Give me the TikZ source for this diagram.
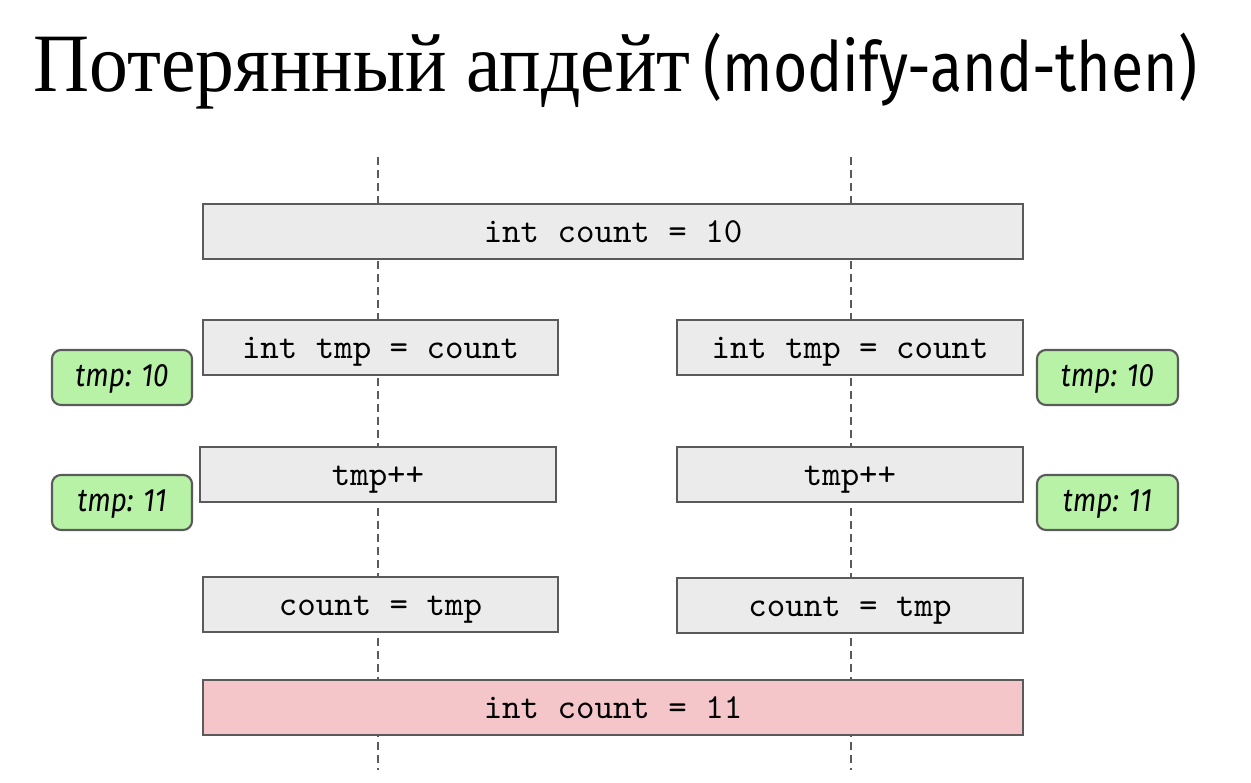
\documentclass[tikz,border=0pt]{standalone}
\usepackage{fontspec}
\setmainfont{Liberation Serif}
\newfontfamily\tagfont{Fira Sans}
\definecolor{opfill}{HTML}{EBEBEB}
\definecolor{opdraw}{HTML}{5A5A5A}
\definecolor{lostfill}{HTML}{F4C6C9}
\definecolor{tmpfill}{HTML}{B8F2A6}

\begin{document}
\begin{tikzpicture}[x=0.01cm,y=-0.01cm,
    op/.style={draw=opdraw,fill=opfill,line width=0.6pt,minimum height=0.55cm,
        inner sep=0pt,text height=6.6pt,text depth=0.4pt,
        font=\ttfamily\fontsize{10}{12}\selectfont},
    tmp/.style={draw=opdraw,fill=tmpfill,line width=0.6pt,rounded corners=0.09cm,
        minimum width=1.4cm,minimum height=0.55cm,inner sep=0pt,
        text height=6.2pt,text depth=0.8pt,
        font=\tagfont\itshape\fontsize{9.2}{10}\selectfont},
    thread/.style={draw=opdraw,line width=0.45pt,dash pattern=on 0.08cm off 0.05cm}]
\useasboundingbox (0,0) rectangle (1251,783);

\node (title) [anchor=base west,inner sep=0pt] at (33,92)
    {\fontsize{23.6}{28}\selectfont\scalebox{0.935}[1]{Потерянный апдейт}};
\node (mode) [anchor=base west,inner sep=0pt] at (703,92)
    {\tagfont\fontsize{19.7}{24}\selectfont\scalebox{0.85}[1]{(modify-and-then)}};

\coordinate (ta) at (378,157);
\coordinate (tb) at (851,157);
\draw[thread] (ta) -- (ta |- 0,770);
\draw[thread] (tb) -- (tb |- 0,770);

\node (init) [op,minimum width=8.2cm] at (613,231.5) {int count = 10};

\node (readA) [op,minimum width=3.55cm] at (380.5,347.5) {int tmp = count};
\node (readB) [op,minimum width=3.46cm] at (850,347.5) {int tmp = count};
\node (incA) [op,minimum width=3.56cm] at (378,474.5) {tmp++};
\node (incB) [op,minimum width=3.46cm] at (850,474.5) {tmp++};
\node (writeA) [op,minimum width=3.55cm] at (380.5,604.5) {count = tmp};
\node (writeB) [op,minimum width=3.46cm] at (850,605.5) {count = tmp};

\node (final) [op,fill=lostfill,minimum width=8.2cm] at (613,707.5) {int count = 11};

\node (tmpA1) [tmp] at (122,377.5) {\scalebox{0.86}[1]{tmp: 10}};
\node (tmpA2) [tmp] at (122,502.5) {\scalebox{0.86}[1]{tmp: 11}};
\node (tmpB1) [tmp,minimum width=1.41cm] at (1107.5,377.5) {\scalebox{0.86}[1]{tmp: 10}};
\node (tmpB2) [tmp,minimum width=1.41cm] at (1107.5,502.5) {\scalebox{0.86}[1]{tmp: 11}};

\end{tikzpicture}
\end{document}
